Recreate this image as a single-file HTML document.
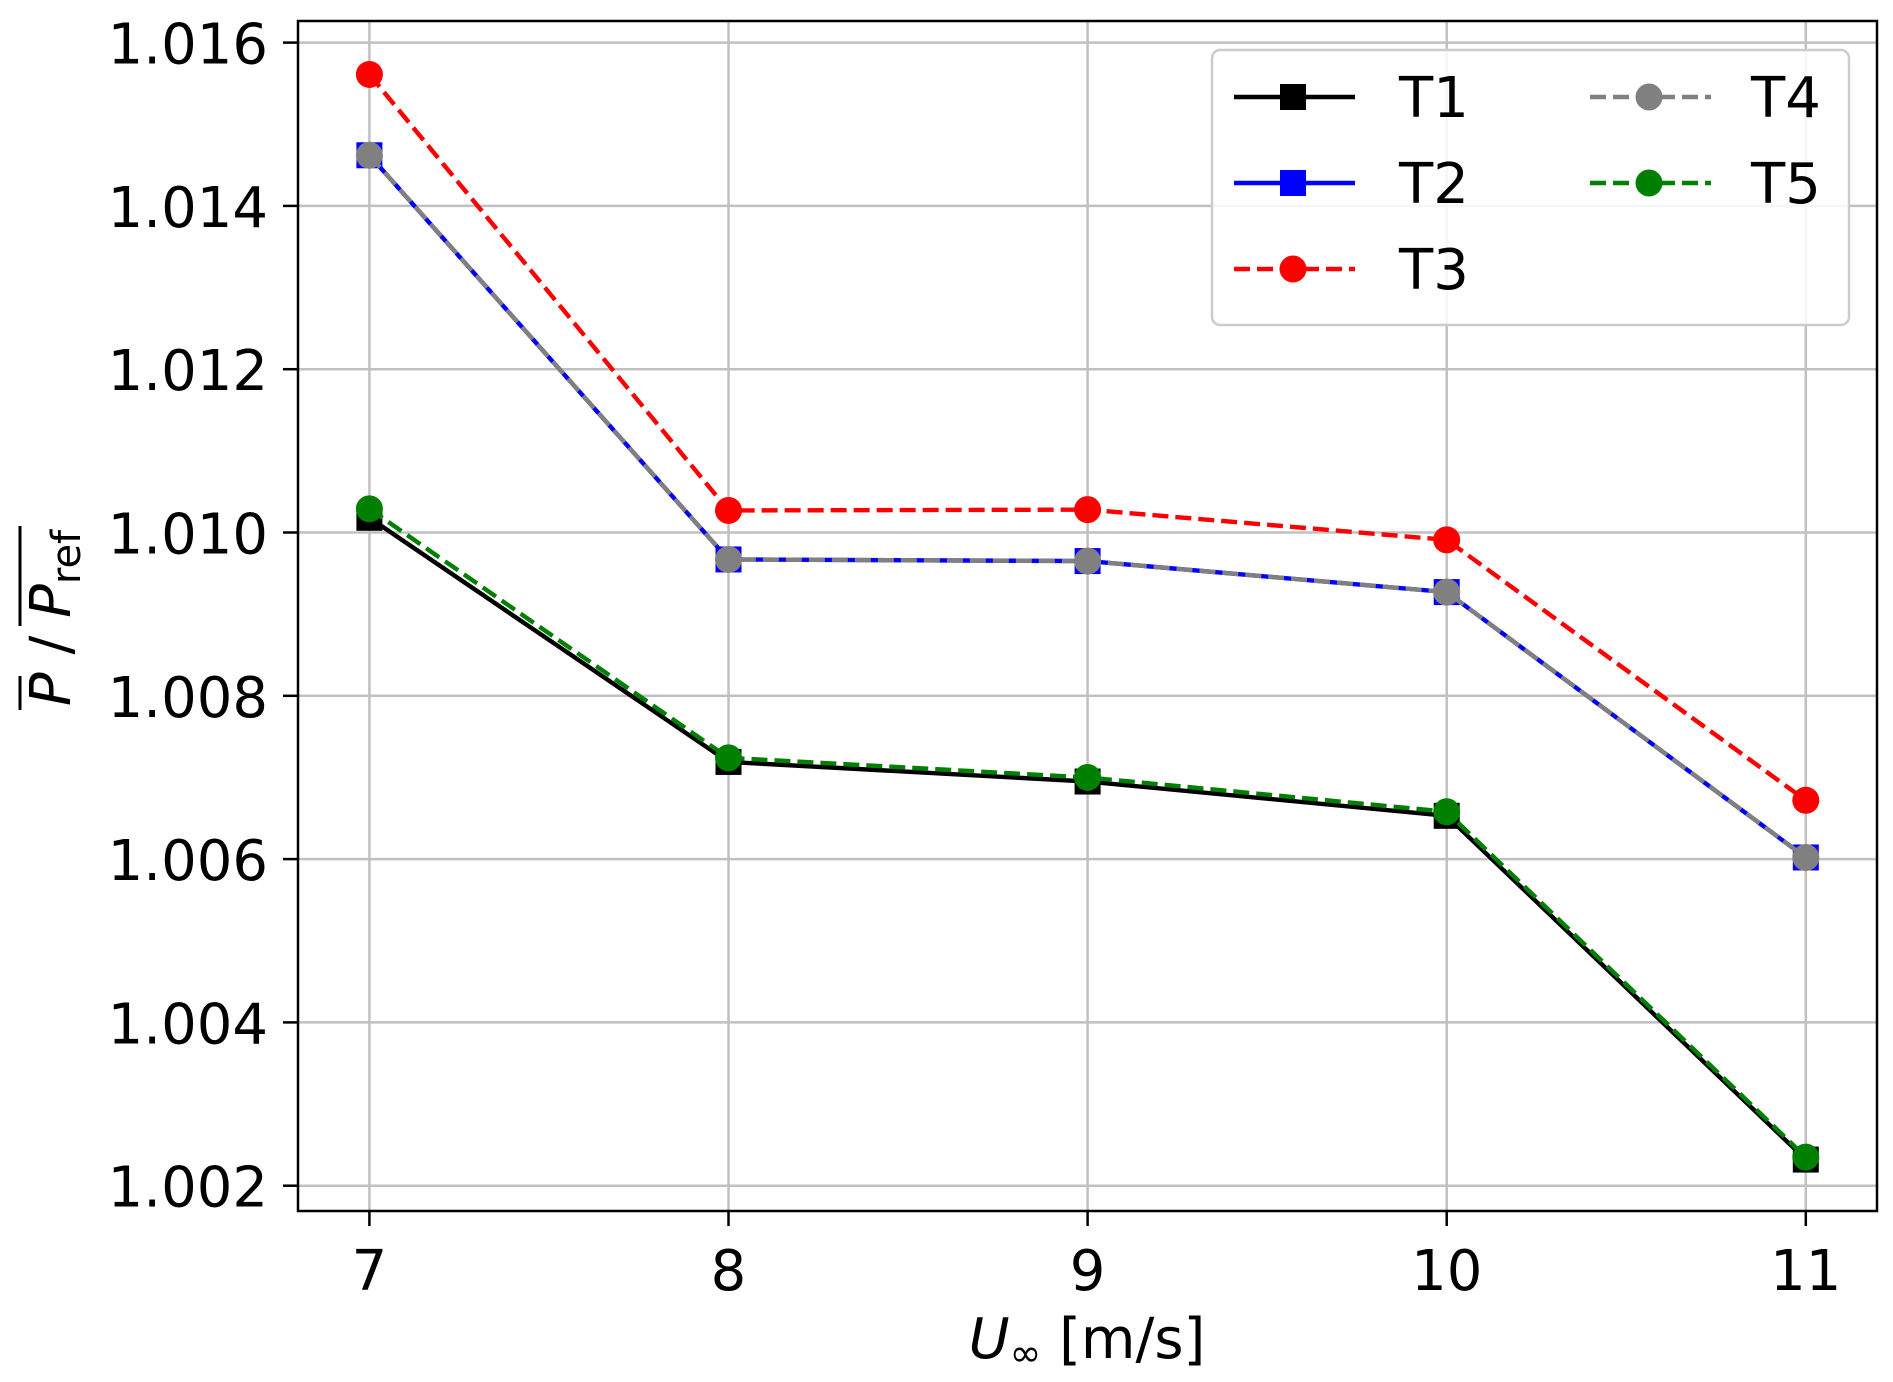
<!DOCTYPE html>
<html><head><meta charset="utf-8"><style>
html,body{margin:0;padding:0;background:#fff;}
svg{display:block;font-family:"DejaVu Sans","Liberation Sans",sans-serif;}
</style></head><body>
<svg id="chart" width="1893" height="1382" viewBox="0 0 1893 1382">
<g id="grid"></g>
<g id="series"></g>
<rect x="298" y="21" width="1579" height="1190" fill="none" stroke="#000" stroke-width="2.5"/>
<g id="ticks"></g>
<text x="1087" y="1358" font-size="56" text-anchor="middle"><tspan font-style="italic">U</tspan><tspan font-size="38" dy="8">∞</tspan><tspan dy="-8"> [m/s]</tspan></text>
<g transform="translate(70,618) rotate(-90)">
<text x="0" y="0" font-size="56" text-anchor="middle"><tspan font-style="italic">P</tspan> / <tspan font-style="italic">P</tspan><tspan font-size="40" dy="10">ref</tspan></text>
<line x1="-92" y1="-50" x2="-58" y2="-50" stroke="#000" stroke-width="3"/>
<line x1="-8" y1="-50" x2="92" y2="-50" stroke="#000" stroke-width="3"/>
</g>
<g id="legend">
<rect x="1212" y="50" width="637" height="275" rx="8" fill="#fff" fill-opacity="0.85" stroke="#ccc" stroke-width="2.5"/>
</g>
</svg>
<script>
const xCats = [7, 8, 9, 10, 11];
const yTicks = [1.002, 1.004, 1.006, 1.008, 1.010, 1.012, 1.014, 1.016];
const yTickLabels = ["1.002","1.004","1.006","1.008","1.010","1.012","1.014","1.016"];
const t1 = [1.01018, 1.00719, 1.00695, 1.00653, 1.00232];
const t2 = [1.01462, 1.00967, 1.00965, 1.00927, 1.00602];
const t3 = [1.01561, 1.01027, 1.01028, 1.00991, 1.00672];
const t4 = [1.01462, 1.00967, 1.00965, 1.00927, 1.00602];
const t5 = [1.01029, 1.00724, 1.00700, 1.00658, 1.00235];
const seriesNames = ["T1","T2","T3","T4","T5"];

const NS = "http://www.w3.org/2000/svg";
function X(v){ return 369.4 + (v-7)*(1805.8-369.4)/4; }
function Y(v){ return 1185.7 - (v-1.002)*(1185.7-42.6)/0.014; }
function mk(tag, attrs, parent){ const e=document.createElementNS(NS,tag); for(const k in attrs) e.setAttribute(k,attrs[k]); parent.appendChild(e); return e; }

const grid=document.getElementById('grid'), ticks=document.getElementById('ticks'), sg=document.getElementById('series'), lg=document.getElementById('legend');
xCats.forEach(v=>{
  const l=mk('line',{x1:X(v),x2:X(v),y1:21,y2:1211,stroke:'#c0c0c0','stroke-width':2.5},grid);
   
  const t=mk('line',{x1:X(v),x2:X(v),y1:1211,y2:1226,stroke:'#000','stroke-width':2.5},ticks);
   
  const tx=mk('text',{x:X(v),y:1290,'font-size':56,'text-anchor':'middle'},ticks); tx.textContent=v;
   
});
yTicks.forEach((v,i)=>{
  const l=mk('line',{x1:298,x2:1877,y1:Y(v),y2:Y(v),stroke:'#c0c0c0','stroke-width':2.5},grid);
   
  const t=mk('line',{x1:283,x2:298,y1:Y(v),y2:Y(v),stroke:'#000','stroke-width':2.5},ticks);
   
  const tx=mk('text',{x:268,y:Y(v)+21,'font-size':56,'text-anchor':'end'},ticks); tx.textContent=yTickLabels[i];
   
});
const styles=[
  {d:t1,c:'#000',dash:'',m:'sq'},
  {d:t2,c:'#0000ff',dash:'',m:'sq'},
  {d:t3,c:'#ff0000',dash:'16,7',m:'ci'},
  {d:t4,c:'#808080',dash:'16,7',m:'ci'},
  {d:t5,c:'#008000',dash:'16,7',m:'ci'}
];
function marker(type,x,y,c,parent){
  let e;
  if(type==='sq') e=mk('rect',{x:x-13,y:y-13,width:26,height:26,fill:c},parent);
  else e=mk('circle',{cx:x,cy:y,r:13.5,fill:c},parent);
  return e;
}
styles.forEach((s,k)=>{
  const g=mk('g',{},sg);
  
  
  const pts=s.d.map((v,i)=>X(xCats[i])+','+Y(v)).join(' ');
  const pl=mk('polyline',{points:pts,fill:'none',stroke:s.c,'stroke-width':4.4,'stroke-dasharray':s.dash},g);
  
  
  s.d.forEach((v,i)=>{
    const m=marker(s.m,X(xCats[i]),Y(v),s.c,g);
    
    
  });
  const col=k<3?0:1, row=k<3?k:k-3;
  const lx=col===0?1234:1590, ly=97+row*86;
  const e=mk('g',{},lg);
  
  
  mk('line',{x1:lx,x2:lx+121,y1:ly,y2:ly,stroke:s.c,'stroke-width':4.4,'stroke-dasharray':s.dash},e);
  marker(s.m,lx+59,ly,s.c,e);
  const tx=mk('text',{x:col===0?1399:1751,y:ly+20,'font-size':56},e); tx.textContent=seriesNames[k];
});
</script>
</body></html>
